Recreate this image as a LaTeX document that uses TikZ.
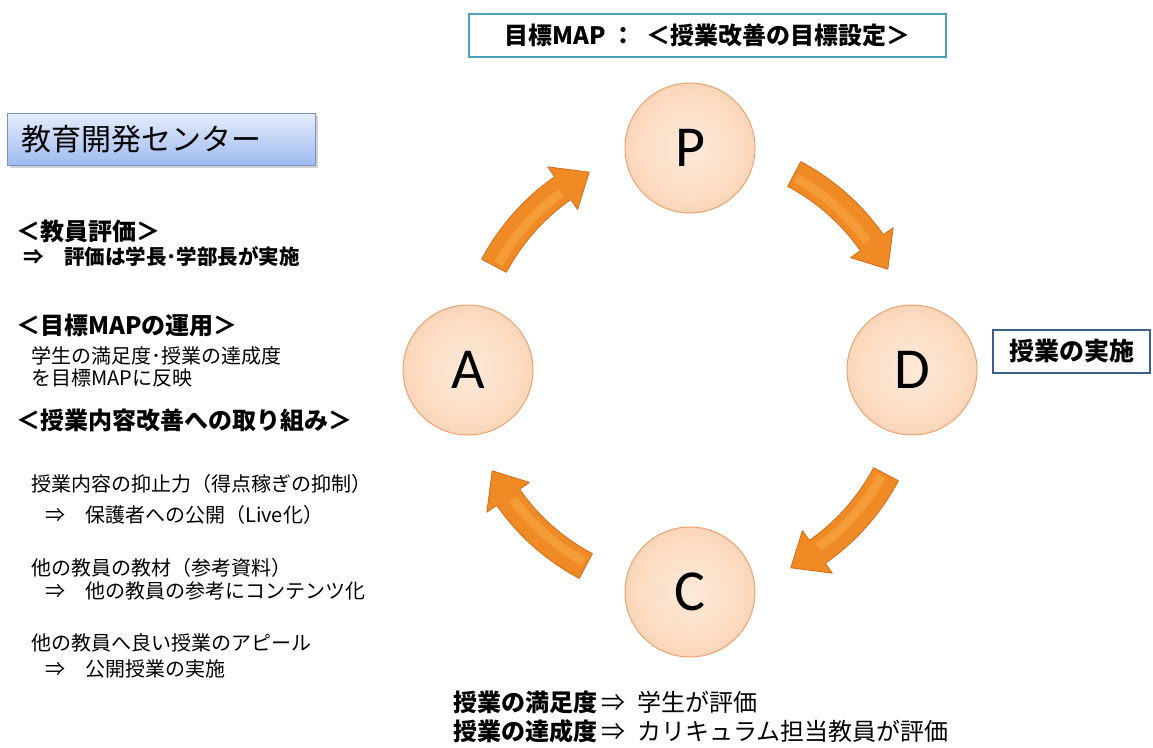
\documentclass[tikz,border=0pt]{standalone}
\usepackage{fontspec}
\setmainfont{Noto Sans CJK JP}
\newfontfamily\latinfont{Carlito}
\usetikzlibrary{calc,shadows}

\definecolor{arrowor}{RGB}{240,138,36}
\definecolor{arrowlight}{RGB}{250,178,80}
\definecolor{arrowedge}{RGB}{210,108,26}
\definecolor{peachin}{RGB}{253,233,216}
\definecolor{peachout}{RGB}{248,186,140}
\definecolor{peachedge}{RGB}{236,162,112}
\definecolor{titleteal}{RGB}{75,160,190}
\definecolor{boxblue}{RGB}{62,96,140}
\definecolor{centertop}{RGB}{228,236,251}
\definecolor{centerbot}{RGB}{158,186,240}
\definecolor{centeredge}{RGB}{118,146,196}

\pgfdeclareradialshading{peachball}{\pgfpoint{0bp}{0bp}}{color(0bp)=(peachin); color(18bp)=(peachin!75!peachout); color(50bp)=(peachout)}

\newcommand{\ringarrow}[3]{%
  \path[cyclearrow] ($(O)+(#1:208)$) arc[start angle=#1, end angle=#2, radius=208]
    -- ($(O)+(#2:196)$) -- ($(O)+(#3:222)$) -- ($(O)+(#2:248)$) -- ($(O)+(#2:236)$)
    arc[start angle=#2, end angle=#1, radius=236] -- cycle;
  \draw[arrowshine] ($(O)+(#1+1:219)$) arc[start angle=#1+1, end angle=#2-1, radius=219];}

\begin{document}
\begin{tikzpicture}[x=1pt,y=-1pt,
  lefthead/.style={anchor=west, inner sep=0pt, font=\bfseries\fontsize{24}{28}\selectfont},
  leftsub/.style={anchor=west, inner sep=0pt, font=\bfseries\fontsize{20.5}{24}\selectfont},
  lefttext/.style={anchor=west, inner sep=0pt, font=\fontsize{20}{24}\selectfont},
  bottomtext/.style={anchor=west, inner sep=0pt, font=\fontsize{24}{28}\selectfont},
  phase/.style={circle, minimum size=130pt, inner sep=0pt, shading=peachball, draw=peachedge, line width=1pt, font=\latinfont\fontsize{58}{62}\selectfont},
  cyclearrow/.style={fill=arrowor, draw=arrowedge, line width=0.8pt, line join=round},
  arrowshine/.style={draw=arrowlight, line width=9pt, opacity=0.45, line cap=butt},
]
\useasboundingbox (0,0) rectangle (1153,747);
\fill[white] (0,0) rectangle (1153,747);

% title
\node[draw=titleteal, line width=2.5pt, fill=white, minimum width=477pt, minimum height=43pt, inner sep=0pt,
      font=\bfseries\fontsize{24}{28}\selectfont] (title) at (707.5,35.5) {目標MAP\ ：\ \ ＜授業改善の目標設定＞};

% centre box
\node[draw=centeredge, line width=1pt, top color=centertop, bottom color=centerbot, drop shadow={opacity=0.35},
      text width=280pt, inner xsep=14pt, minimum height=52pt, align=left, anchor=north west,
      font=\fontsize{30}{34}\selectfont] (center) at (7,113) {教育開発センター};

% left texts
\node[lefthead] (h1) at (16,231) {＜教員評価＞};
\node[leftsub]  (s1) at (23,257) {⇒\quad 評価は学長･学部長が実施};
\node[lefthead] (h2) at (16,325) {＜目標MAPの運用＞};
\node[lefttext] (t21) at (31,356) {学生の満足度･授業の達成度};
\node[lefttext] (t22) at (31,378) {を目標MAPに反映};
\node[lefthead] (h3) at (16,420) {＜授業内容改善への取り組み＞};
\node[lefttext] (t31) at (31,484) {授業内容の抑止力（得点稼ぎの抑制）};
\node[lefttext] (t32) at (45,515) {⇒\quad 保護者への公開（Live化）};
\node[lefttext] (t33) at (31,568) {他の教員の教材（参考資料）};
\node[lefttext] (t34) at (45,591) {⇒\quad 他の教員の参考にコンテンツ化};
\node[lefttext] (t35) at (31,643) {他の教員へ良い授業のアピール};
\node[lefttext] (t36) at (45,669) {⇒\quad 公開授業の実施};

% cycle
\coordinate (O) at (690,370);
\node[phase] (P) at (690,148) {P};
\node[phase] (D) at (912,370) {D};
\node[phase] (C) at (690,592) {C};
\node[phase] (A) at (468,370) {A};

\ringarrow{208}{235}{243}
\ringarrow{298}{325}{333}
\ringarrow{28}{55}{63}
\ringarrow{118}{145}{153}

% right box
\node[draw=boxblue, line width=2pt, fill=white, minimum width=157pt, minimum height=43pt, inner sep=0pt,
      font=\bfseries\fontsize{25}{29}\selectfont] (doing) at (1071.5,351.5) {授業の実施};

% bottom texts
\node[bottomtext] (e1) at (453,702) {{\bfseries 授業の満足度}\,⇒\enspace 学生が評価};
\node[bottomtext] (e2) at (453,731) {{\bfseries 授業の達成度}\,⇒\enspace カリキュラム担当教員が評価};
\end{tikzpicture}
\end{document}
